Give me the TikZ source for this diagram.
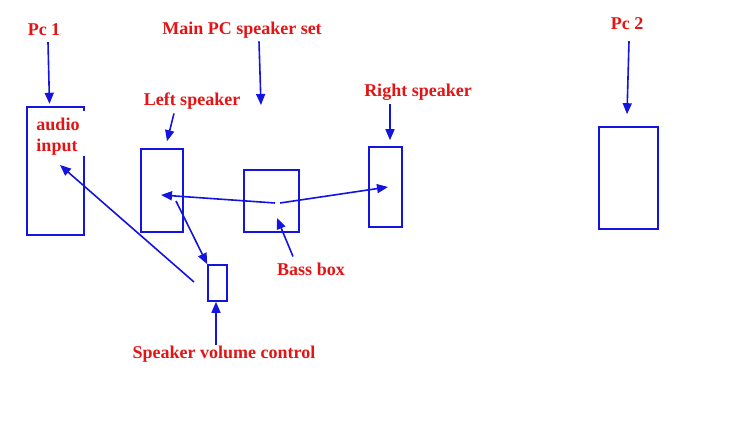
\documentclass[tikz,border=0pt]{standalone}
\usepackage{fontspec}
\setmainfont{Liberation Serif}
\usetikzlibrary{arrows.meta,calc}
\definecolor{lblred}{RGB}{228,20,20}
\definecolor{lnblue}{RGB}{20,20,225}
\tikzset{
  box/.style={draw=lnblue, line width=1.6pt, inner sep=0pt},
  lbl/.style={text=lblred, font=\fontsize{18}{19}\selectfont\bfseries, inner sep=0pt},
  arr/.style={draw=lnblue, line width=1.6pt, -{Triangle[length=11pt,width=9pt]}},
}
\begin{document}
\begin{tikzpicture}[x=1pt,y=-1pt]
\useasboundingbox[fill=white] (0,0) rectangle (750,423);
% boxes
\node[inner sep=0pt, minimum width=57pt, minimum height=128pt] (pc1) at (55.5,171) {};
\draw[lnblue, line width=1.6pt] ($(pc1.north east)+(0,4)$) -- (pc1.north east) -- (pc1.north west) -- (pc1.south west) -- (pc1.south east) -- ($(pc1.north east)+(0,49)$);
\node[box, minimum width=42pt, minimum height=83pt] (left) at (162,190.5) {};
\node[box, minimum width=55pt, minimum height=62pt] (bass) at (271.5,201) {};
\node[box, minimum width=33pt, minimum height=80pt] (right) at (385.5,187) {};
\node[box, minimum width=59pt, minimum height=102pt] (pc2) at (628.5,178) {};
\node[box, minimum width=19pt, minimum height=36pt] (vol) at (217.5,283) {};
% labels
\node[lbl] (pc1lbl) at (44,30) {Pc 1};
\node[lbl] (mainlbl) at (242,30) {Main PC speaker set};
\node[lbl] (leftlbl) at (192,101) {Left speaker};
\node[lbl] (rightlbl) at (418,92) {Right speaker};
\node[lbl] (pc2lbl) at (627,24) {Pc 2};
\node[lbl] (basslbl) at (311,269) {Bass box};
\node[lbl] (vollbl) at (224,354) {Speaker volume control};
\node[lbl, align=left, font=\fontsize{18}{21}\selectfont\bfseries] (audio) at (58,137) {audio\\input};
% coordinates
\coordinate (bassL) at (275,203);
\coordinate (bassR) at (280,203);
\coordinate (leftC) at (161,195);
\coordinate (rightC) at (388,187);
\coordinate (leftT) at (176,201);
\coordinate (volTail) at (194,282);
\coordinate (audioTip) at (60,165);
\coordinate (bassTip) at (277,218);
% arrows
\draw[arr] ($(pc1lbl.south)+(4,6)$) -- ($(pc1.north)+(-6,-3)$);
\draw[arr] ($(mainlbl.south)+(17,3)$) -- (261,105);
\draw[arr] ($(leftlbl.south)+(-18,4)$) -- ($(left.north)+(5,-7)$);
\draw[arr] ($(rightlbl.south)+(-28,4)$) -- ($(right.north)+(4.5,-6)$);
\draw[arr] ($(pc2lbl.south)+(2,11)$) -- ($(pc2.north)+(-1.5,-12)$);
\draw[arr] (bassL) -- (leftC);
\draw[arr] (bassR) -- (rightC);
\draw[arr] (leftT) -- (vol.north west);
\draw[arr] (volTail) -- (audioTip);
\draw[arr] ($(basslbl.north)+(-18,-6)$) -- (bassTip);
\draw[arr] ($(vollbl.north)+(-8,-1)$) -- (vol.south -| 216,0);
\end{tikzpicture}
\end{document}
